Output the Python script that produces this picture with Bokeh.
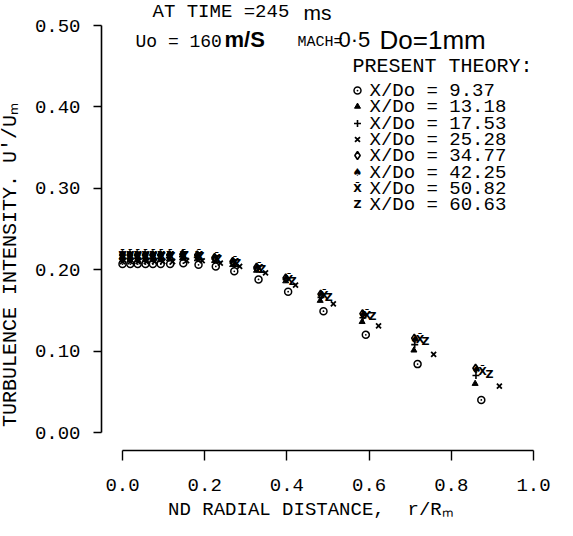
from bokeh.plotting import figure
from bokeh.models import Range1d, FixedTicker, PrintfTickFormatter, Label
from bokeh.core.properties import value
from bokeh.embed import file_html
from bokeh.resources import INLINE

# ---------------- data ----------------
x_ticks = [0.0, 0.2, 0.4, 0.6, 0.8, 1.0]
y_ticks = [0.0, 0.1, 0.2, 0.3, 0.4, 0.5]
xd_values = ["9.37", "13.18", "17.53", "25.28", "34.77", "42.25", "50.82", "60.63"]

r_937  = [0.000, 0.019, 0.037, 0.056, 0.074, 0.093, 0.116, 0.148, 0.185, 0.227, 0.272, 0.331, 0.403, 0.489, 0.592, 0.718, 0.873]
u_937  = [0.207, 0.207, 0.207, 0.207, 0.207, 0.207, 0.207, 0.208, 0.206, 0.204, 0.198, 0.188, 0.173, 0.149, 0.120, 0.084, 0.040]
r_1318 = [0.000, 0.018, 0.036, 0.055, 0.073, 0.092, 0.114, 0.146, 0.182, 0.224, 0.268, 0.326, 0.397, 0.481, 0.583, 0.709, 0.858]
u_1318 = [0.212, 0.212, 0.212, 0.212, 0.212, 0.212, 0.213, 0.214, 0.213, 0.211, 0.206, 0.199, 0.186, 0.162, 0.136, 0.101, 0.060]
r_1753 = [0.000, 0.018, 0.036, 0.055, 0.073, 0.092, 0.114, 0.146, 0.182, 0.225, 0.269, 0.327, 0.398, 0.483, 0.585, 0.711, 0.860]
u_1753 = [0.214, 0.214, 0.214, 0.214, 0.214, 0.214, 0.215, 0.216, 0.215, 0.213, 0.208, 0.201, 0.188, 0.166, 0.141, 0.108, 0.070]
r_2528 = [0.000, 0.019, 0.038, 0.058, 0.078, 0.098, 0.122, 0.156, 0.194, 0.238, 0.285, 0.348, 0.421, 0.513, 0.623, 0.757, 0.917]
u_2528 = [0.210, 0.210, 0.210, 0.210, 0.210, 0.210, 0.210, 0.211, 0.211, 0.208, 0.204, 0.196, 0.181, 0.158, 0.131, 0.096, 0.057]
r_3477 = [0.000, 0.018, 0.036, 0.055, 0.073, 0.092, 0.114, 0.146, 0.182, 0.224, 0.268, 0.326, 0.397, 0.482, 0.584, 0.710, 0.859]
u_3477 = [0.218, 0.218, 0.218, 0.218, 0.218, 0.218, 0.218, 0.219, 0.218, 0.215, 0.210, 0.203, 0.190, 0.170, 0.146, 0.116, 0.079]
r_4225 = [0.000, 0.018, 0.036, 0.055, 0.074, 0.093, 0.115, 0.147, 0.183, 0.225, 0.270, 0.328, 0.399, 0.484, 0.586, 0.712, 0.862]
u_4225 = [0.219, 0.219, 0.219, 0.219, 0.219, 0.219, 0.219, 0.219, 0.218, 0.215, 0.210, 0.203, 0.189, 0.169, 0.145, 0.114, 0.077]
r_5082 = [0.000, 0.019, 0.037, 0.056, 0.075, 0.094, 0.116, 0.149, 0.186, 0.229, 0.274, 0.333, 0.405, 0.491, 0.595, 0.724, 0.876]
u_5082 = [0.217, 0.217, 0.217, 0.217, 0.217, 0.217, 0.217, 0.218, 0.217, 0.214, 0.209, 0.201, 0.188, 0.168, 0.144, 0.114, 0.075]
r_6063 = [0.000, 0.019, 0.038, 0.057, 0.076, 0.096, 0.119, 0.152, 0.190, 0.233, 0.279, 0.340, 0.414, 0.502, 0.608, 0.737, 0.893]
u_6063 = [0.216, 0.216, 0.216, 0.216, 0.216, 0.216, 0.216, 0.217, 0.216, 0.213, 0.208, 0.200, 0.186, 0.166, 0.142, 0.112, 0.071]

series = [
    (r_937, u_937, "circle"),
    (r_1318, u_1318, "triangle"),
    (r_1753, u_1753, "plus"),
    (r_2528, u_2528, "x"),
    (r_3477, u_3477, "diamond"),
    (r_4225, u_4225, "spade"),
    (r_5082, u_5082, "xbar"),
    (r_6063, u_6063, "z"),
]

# ---------------- layout (pixels in the 573x536 window) ----------------
PAGE = 8
W, H = 557, 520
AXIS_X_PX = 109         # where the (detached) vertical axis is drawn
AXIS_Y_PX = 458         # where the (detached) horizontal axis is drawn
X0PX, KX = 130, 411     # pixel of r=0, pixels per unit
Y0PX, KY = 440, 814     # pixel of u=0, pixels per unit


def dx(px):
    return (px - X0PX) / KX


def dy(py):
    return (Y0PX - py) / KY


MONO = "Liberation Mono"
SANS = "Liberation Sans"
NB = "\u00a0"

p = figure(width=W, height=H, title=None,
           x_range=Range1d(dx(PAGE), dx(PAGE + W)),
           y_range=Range1d(dy(PAGE + H), dy(PAGE)),
           output_backend="svg", toolbar_location=None, min_border=0)
p.outline_line_color = None
p.xgrid.visible = False
p.ygrid.visible = False
p.background_fill_color = "white"
p.border_fill_color = "white"

for ax in (p.xaxis[0], p.yaxis[0]):
    ax.axis_line_color = "black"
    ax.axis_line_width = 1.6
    ax.major_tick_line_color = "black"
    ax.major_tick_line_width = 1.4
    ax.major_tick_in = 0
    ax.minor_tick_line_color = None
    ax.major_label_text_font = MONO
    ax.major_label_text_font_size = "19px"
    ax.major_label_text_color = "black"
    ax.axis_label_text_font = MONO
    ax.axis_label_text_font_size = "20px"
    ax.axis_label_text_font_style = "normal"
    ax.axis_label_text_color = "black"

xa = p.xaxis[0]
xa.bounds = (0, 1)
xa.fixed_location = dy(AXIS_Y_PX)
xa.ticker = FixedTicker(ticks=x_ticks)
xa.formatter = PrintfTickFormatter(format="%.1f")
xa.major_tick_out = 10
xa.major_label_standoff = 18
xa.axis_label = "ND RADIAL DISTANCE," + NB * 2 + "r/R\u2098" + NB * 3
xa.axis_label_text_font_size = "19px"
xa.axis_label_standoff = 5

ya = p.yaxis[0]
ya.bounds = (0, 0.5)
ya.fixed_location = dx(AXIS_X_PX)
ya.ticker = FixedTicker(ticks=y_ticks)
ya.formatter = PrintfTickFormatter(format="%.2f")
ya.major_tick_out = 8
ya.major_label_standoff = 13
ya.axis_label = "TURBULENCE INTENSITY. U'/U\u2098" + NB * 6
ya.axis_label_standoff = 10


def draw(kind, xs, ys):
    if kind == "circle":
        p.scatter(xs, ys, marker="circle_dot", size=7, line_color="black",
                  fill_color="white", line_width=1.5)
    elif kind == "triangle":
        p.scatter(xs, ys, marker="triangle", size=6, line_color="black",
                  fill_color="black", line_width=1)
    elif kind == "plus":
        p.scatter(xs, ys, marker="cross", size=7, line_color="black", line_width=1.6)
    elif kind == "x":
        p.scatter(xs, ys, marker="x", size=7, line_color="black", line_width=1.8)
    elif kind == "diamond":
        p.scatter(xs, ys, marker="diamond", size=8, line_color="black",
                  fill_color="white", line_width=1.6)
    else:
        glyph = {"spade": "\u2660", "xbar": "X\u0304", "z": "Z"}[kind]
        p.text(xs, ys, text=[glyph] * len(xs), text_font=value("DejaVu Sans"),
               text_font_size="11px", text_font_style="bold", text_color="black",
               text_align="center", text_baseline="middle")


for xs, ys, kind in series:
    draw(kind, xs, ys)


def label(px, py, text, font=MONO, size="19px", style="normal", align="left"):
    p.add_layout(Label(x=dx(px), y=dy(py), text=text, text_font=font,
                       text_font_size=size, text_font_style=style,
                       text_color="black", text_align=align,
                       text_baseline="middle"))


# header texts
label(160, 19, "AT TIME =245", size="19px")
label(311, 20, "ms", font=SANS, size="21px")
label(143, 49, "Uo = 160", size="18px")
label(232, 47, "m/S", font=SANS, size="22px", style="bold")
label(305, 50, "MACH=", size="15px")
label(346, 47, "0\u00b75", font=SANS, size="22px")
label(387, 47, "Do=1mm", font=SANS, size="26px")
label(360, 74, "PRESENT THEORY:", size="20px")

# legend
leg_y = [98, 114, 131, 147, 163, 180, 196, 212]
for (xs, ys, kind), v, ly in zip(series, xd_values, leg_y):
    draw(kind, [dx(365)], [dy(ly)])
    label(377, ly, "X/Do = " + v, size="19px")

open("out.html", "w").write(file_html(p, INLINE))
